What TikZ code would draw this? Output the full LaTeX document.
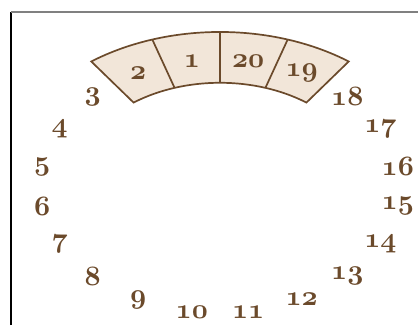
\documentclass[tikz,border=0pt]{standalone}
\usepackage{tikz}
\definecolor{dartbrown}{RGB}{107,74,43}
\definecolor{dartfill}{RGB}{242,230,217}
\font\dartnum=cmmib10 at 28pt

\begin{document}
\begin{tikzpicture}[x=1pt, y=1pt, every node/.style={font=\dartnum, text=dartbrown, inner sep=0pt}]
	\useasboundingbox (-220,-138.5) rectangle (198,186.5);
	% frame
	\draw[black, line width=1.2pt] (-209,-138.5) -- (-209,174.5);
	\draw[gray, line width=1.2pt] (-209,174.5) -- (198,174.5);
	% top band with 2, 1, 20, 19
	\begin{scope}[yscale=0.7056]
		\filldraw[fill=dartfill, draw=dartbrown, line width=1.7pt] (54:147) -- (54:219) arc (54:126:219) -- (126:147) arc (126:54:147) -- cycle;
		\foreach \a in {72,90,108}
			\draw[dartbrown, line width=1.7pt] (\a:147) -- (\a:219);
	\end{scope}
	% numbers round the board
	\foreach \k in {1,...,20}
		\node (n\k) at ({180*cos(81+18*\k)},{127*sin(81+18*\k)}) {\k};
\end{tikzpicture}
\end{document}
